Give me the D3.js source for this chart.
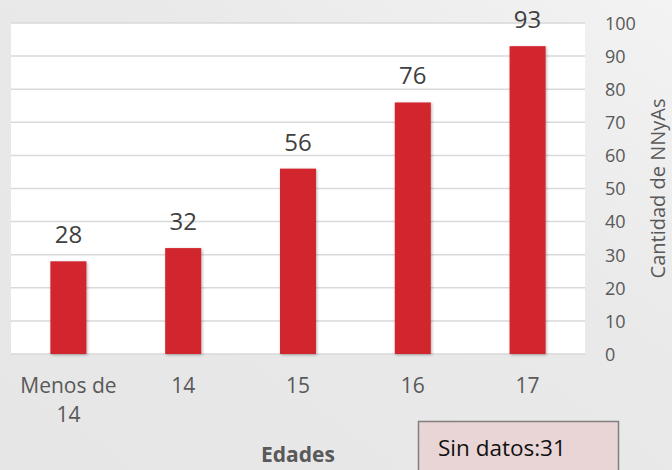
<!DOCTYPE html>
<html><head><meta charset="utf-8">
<script src="https://cdn.jsdelivr.net/npm/d3@7"></script>
<style>html,body{margin:0;padding:0;background:#fff;}svg{display:block;}</style>
</head><body>
<script>
const categories = ["Menos de 14", "14", "15", "16", "17"];
const values = [28, 32, 56, 76, 93];
const yTicks = [0, 10, 20, 30, 40, 50, 60, 70, 80, 90, 100];
const xTitle = "Edades";
const yTitle = "Cantidad de NNyAs";
const noteText = "Sin datos:31";

const W = 672, H = 470;
const svg = d3.select("body").append("svg").attr("width", W).attr("height", H);
const defs = svg.append("defs");
const bg = defs.append("linearGradient").attr("id","bg").attr("x1","0").attr("y1","1").attr("x2","1").attr("y2","0");
bg.append("stop").attr("offset","0").attr("stop-color","#e6e6e6");
bg.append("stop").attr("offset","0.6").attr("stop-color","#e9e9e9");
bg.append("stop").attr("offset","1").attr("stop-color","#f3f3f3");
const f = defs.append("filter").attr("id","sh").attr("x","-30%").attr("y","-30%").attr("width","160%").attr("height","160%");
f.append("feDropShadow").attr("dx",1).attr("dy",1).attr("stdDeviation",1.8).attr("flood-color","#000").attr("flood-opacity",0.3);

svg.append("rect").attr("width",W).attr("height",H).attr("fill","url(#bg)");

const x = d3.scaleBand().domain(categories).range([11, 585]).paddingInner(0.686).paddingOuter(0.343);
const y = d3.scaleLinear().domain([0, 100]).range([354, 23]);

// plot area
svg.append("rect").attr("x",11).attr("y",y(100)).attr("width",574).attr("height",y(0)-y(100)).attr("fill","#fff");

// grid
svg.append("g").selectAll("line").data(yTicks).join("line")
  .attr("x1",11).attr("x2",585).attr("y1",d=>y(d)).attr("y2",d=>y(d))
  .attr("stroke","#d9d9d9").attr("stroke-width",1.5);

// right axis labels
const yAxis = d3.axisRight(y).tickValues(yTicks).tickSize(0).tickPadding(0);
const ya = svg.append("g").attr("transform","translate(605,0)").call(yAxis);
ya.select(".domain").remove();
ya.selectAll("text").attr("font-family","Open Sans").attr("font-size",18).attr("fill","#595959").attr("text-anchor","start").attr("dy","0.35em");

// bars
svg.append("g").selectAll("rect").data(values).join("rect")
  .attr("x",(d,i)=>x(categories[i])).attr("width",x.bandwidth())
  .attr("y",d=>y(d)).attr("height",d=>y(0)-y(d))
  .attr("fill","#d2272e").attr("filter","url(#sh)");

// data labels
svg.append("g").selectAll("text").data(values).join("text")
  .attr("x",(d,i)=>x(categories[i])+x.bandwidth()/2).attr("y",d=>y(d)-18)
  .attr("text-anchor","middle").attr("font-family","Open Sans").attr("font-size",24).attr("fill","#404040")
  .text(d=>d);

// x labels
const xAxis = d3.axisBottom(x).tickSize(0).tickPadding(0);
const xa = svg.append("g").attr("transform","translate(0,393)").call(xAxis);
xa.select(".domain").remove();
xa.selectAll("text").attr("font-family","Open Sans").attr("font-size",21).attr("fill","#595959").attr("dy",0).attr("y",0)
  .each(function(d){
    const t = d3.select(this); t.text(null);
    const parts = d === "Menos de 14" ? ["Menos de","14"] : [d];
    parts.forEach((p,k)=>t.append("tspan").attr("x",0).attr("y",k*29).text(p));
  });

// x title
svg.append("text").attr("x",298).attr("y",462).attr("text-anchor","middle")
  .attr("font-family","Open Sans").attr("font-weight","bold").attr("font-size",21).attr("fill","#595959").text(xTitle);

// y title
svg.append("text").attr("transform","translate(665,188.5) rotate(-90)").attr("text-anchor","middle")
  .attr("font-family","Open Sans").attr("font-size",20).attr("fill","#595959").text(yTitle);

// note box
svg.append("rect").attr("x",418.5).attr("y",421.5).attr("width",200).attr("height",60)
  .attr("fill","#ead5d6").attr("stroke","#7f7f7f").attr("stroke-width",1.5);
svg.append("text").attr("x",438).attr("y",456).attr("font-family","Open Sans").attr("font-size",22.5).attr("fill","#111").text(noteText);
</script>
</body></html>
